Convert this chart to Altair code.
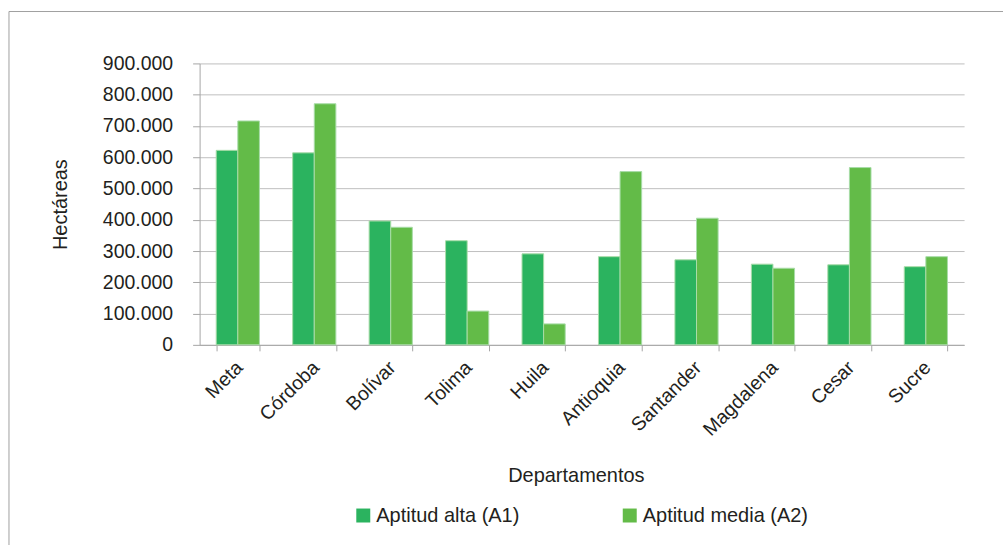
import altair as alt
import pandas as pd

departamentos = ["Meta", "Córdoba", "Bolívar", "Tolima", "Huila", "Antioquia",
                 "Santander", "Magdalena", "Cesar", "Sucre"]
aptitud_alta = [622000, 614000, 396000, 333000, 291000, 282000, 272000, 258000, 256000, 250000]
aptitud_media = [716000, 771000, 376000, 108000, 67000, 554000, 405000, 245000, 567000, 282000]
series = ["Aptitud alta (A1)", "Aptitud media (A2)"]
colors = ["#2bb35f", "#63bb48"]
y_ticks = [0, 100000, 200000, 300000, 400000, 500000, 600000, 700000, 800000, 900000]

rows = []
for d, a, m in zip(departamentos, aptitud_alta, aptitud_media):
    rows.append({"Departamento": d, "Serie": series[0], "Hectareas": a})
    rows.append({"Departamento": d, "Serie": series[1], "Hectareas": m})
df = pd.DataFrame(rows)

FONT = "Liberation Sans"
FS = 19.5
TFS = 20
TXT = "#231f20"

bars = alt.Chart(df).mark_bar(stroke="#a8dca8", strokeWidth=1).encode(
    x=alt.X("Departamento:N", sort=departamentos,
            scale=alt.Scale(paddingInner=0.435, paddingOuter=0.2175),
            axis=alt.Axis(title="Departamentos", labelAngle=-45, labelAlign="right",
                          labelBaseline="top", labelPadding=7, labelOffset=-5, tickSize=6,
                          tickBand="extent", domainColor="#a6a6a6", tickColor="#a6a6a6",
                          titleY=131, titleBaseline="middle", titleX=377, grid=False)),
    xOffset=alt.XOffset("Serie:N", sort=series),
    y=alt.Y("Hectareas:Q",
            scale=alt.Scale(domain=[0, 900000], nice=False),
            axis=alt.Axis(title="Hectáreas", values=y_ticks,
                          labelExpr="replace(format(datum.value, ','), /,/g, '.')",
                          tickSize=7, labelPadding=20, domainColor="#a6a6a6",
                          tickColor="#a6a6a6", gridColor="#bfbfbf",
                          titleX=-139, titleY=141, titleAngle=-90,
                          titleAlign="center", titleBaseline="middle")),
    color=alt.Color("Serie:N", sort=series,
                    scale=alt.Scale(domain=series, range=colors),
                    legend=alt.Legend(title=None, orient="none", legendX=154, legendY=443,
                                      direction="horizontal", columns=2, columnPadding=100,
                                      symbolType="square", symbolSize=196,
                                      symbolStrokeWidth=0, labelOffset=3,
                                      labelLimit=400)),
)

border = alt.Chart(alt.Data(values=[{}])).mark_rule(color="#a0a0a0", strokeWidth=1)
top_line = border.encode(x=alt.value(-191), x2=alt.value(805), y=alt.value(-52))
left_line = border.encode(x=alt.value(-191), y=alt.value(-52), y2=alt.value(483))

chart = alt.layer(bars, top_line, left_line).properties(
    width=766, height=282,
    padding={"left": 8, "top": 10, "right": 0, "bottom": 0},
).configure_view(stroke=None).configure_axis(
    labelFont=FONT, titleFont=FONT, labelFontSize=FS, titleFontSize=TFS,
    labelColor=TXT, titleColor=TXT, titleFontWeight="normal",
).configure_legend(
    labelFont=FONT, labelFontSize=TFS, labelColor=TXT,
)

chart.save("out.html", embed_options={"renderer": "svg", "actions": False})
